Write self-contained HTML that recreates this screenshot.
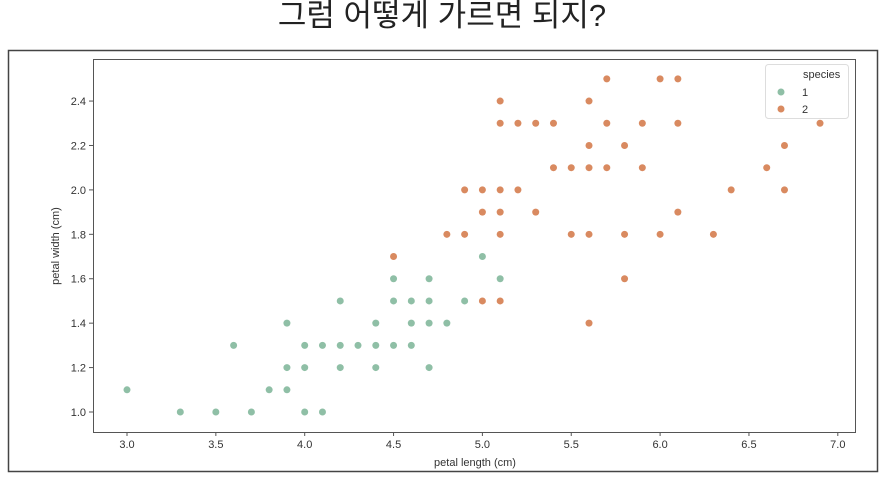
<!DOCTYPE html>
<html><head><meta charset="utf-8"><style>
body{margin:0;width:885px;height:475px;background:#fff;overflow:hidden;font-family:"Liberation Sans","Noto Sans CJK KR",sans-serif}
</style></head><body>
<svg id="s" width="885" height="475" xmlns="http://www.w3.org/2000/svg" font-family="Liberation Sans, DejaVu Sans, sans-serif">
<text x="442" y="26" text-anchor="middle" font-size="31" fill="#222" font-family="Liberation Sans, Noto Sans CJK KR, sans-serif">그럼 어떻게 가르면 되지?</text>
<rect x="8.5" y="50.5" width="869" height="421" fill="none" stroke="#444" stroke-width="1.5"/>
<rect x="93.5" y="59.5" width="762" height="373" fill="none" stroke="#555" stroke-width="1"/>
<g id="g"></g>
<text x="475" y="466" text-anchor="middle" font-size="11" fill="#333">petal length (cm)</text>
<text transform="translate(59,246) rotate(-90)" text-anchor="middle" font-size="11" fill="#333">petal width (cm)</text>
<rect x="765.5" y="64.5" width="83" height="54" rx="3" fill="#fff" stroke="#ddd"/>
<text x="803" y="78" font-size="11" fill="#333">species</text>
<circle cx="781" cy="92" r="3.5" fill="#8fbfa6"/><text x="802" y="96" font-size="11" fill="#333">1</text>
<circle cx="781" cy="109" r="3.5" fill="#d98a60"/><text x="802" y="113" font-size="11" fill="#333">2</text>
</svg>
<script>
var g=document.getElementById('g'),h='';
function X(v){return 127+(v-3)*177.7}function Y(v){return 412-(v-1)*222.1}
for(var t=3;t<=7.01;t+=0.5){var x=X(t);h+='<line x1="'+x+'" x2="'+x+'" y1="432" y2="436" stroke="#555"/><text x="'+x+'" y="448" text-anchor="middle" font-size="11" fill="#333">'+t.toFixed(1)+'</text>';}
for(var t=1;t<=2.41;t+=0.2){var y=Y(t);h+='<line x1="89" x2="93" y1="'+y+'" y2="'+y+'" stroke="#555"/><text x="86" y="'+(y+4)+'" text-anchor="end" font-size="11" fill="#333">'+t.toFixed(1)+'</text>';}
var a=[[3.0,1.1],[3.3,1.0],[3.5,1.0],[3.6,1.3],[3.7,1.0],[3.8,1.1],[3.9,1.1],[3.9,1.2],[3.9,1.4],[4.0,1.0],[4.0,1.2],[4.0,1.3],[4.1,1.0],[4.1,1.3],[4.2,1.2],[4.2,1.3],[4.2,1.5],[4.3,1.3],[4.4,1.2],[4.4,1.3],[4.4,1.4],[4.5,1.3],[4.5,1.5],[4.5,1.6],[4.6,1.3],[4.6,1.4],[4.6,1.5],[4.7,1.2],[4.7,1.4],[4.7,1.5],[4.7,1.6],[4.8,1.4],[4.9,1.5],[5.0,1.7],[5.1,1.6]];
var b=[[4.5,1.7],[4.8,1.8],[4.9,1.8],[4.9,2.0],[5.0,1.5],[5.0,1.9],[5.0,2.0],[5.1,1.5],[5.1,1.8],[5.1,1.9],[5.1,2.0],[5.1,2.3],[5.1,2.4],[5.2,2.0],[5.2,2.3],[5.3,1.9],[5.3,2.3],[5.4,2.1],[5.4,2.3],[5.5,1.8],[5.5,2.1],[5.6,1.4],[5.6,1.8],[5.6,2.1],[5.6,2.2],[5.6,2.4],[5.7,2.1],[5.7,2.3],[5.7,2.5],[5.8,1.6],[5.8,1.8],[5.8,2.2],[5.9,2.1],[5.9,2.3],[6.0,1.8],[6.0,2.5],[6.1,1.9],[6.1,2.3],[6.1,2.5],[6.3,1.8],[6.4,2.0],[6.6,2.1],[6.7,2.0],[6.7,2.2],[6.9,2.3]];
a.forEach(function(p){h+='<circle cx="'+X(p[0])+'" cy="'+Y(p[1])+'" r="3.5" fill="#8fbfa6"/>'});
b.forEach(function(p){h+='<circle cx="'+X(p[0])+'" cy="'+Y(p[1])+'" r="3.5" fill="#d98a60"/>'});
g.innerHTML=h;
</script>
</body></html>
